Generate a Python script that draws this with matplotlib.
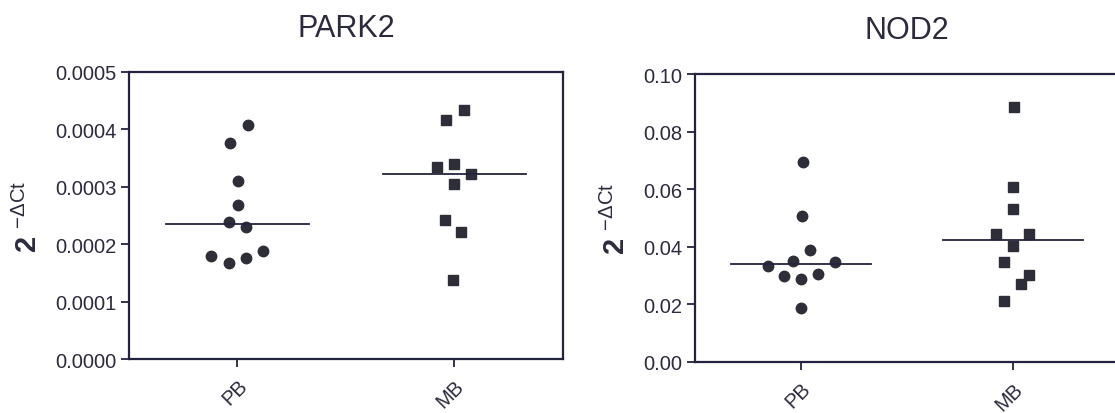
import matplotlib
matplotlib.use('Agg')
import matplotlib.pyplot as plt
from matplotlib.ticker import FormatStrFormatter

plt.rcParams['font.family'] = ['Liberation Sans', 'DejaVu Sans']
plt.rcParams['mathtext.fontset'] = 'custom'
plt.rcParams['mathtext.rm'] = 'Liberation Sans'
plt.rcParams['mathtext.bf'] = 'Liberation Sans:bold'
plt.rcParams['mathtext.it'] = 'Liberation Sans:italic'

grupos = ['PB', 'MB']

# PARK2
park2_pb = [0.000408, 0.000377, 0.000310, 0.000269, 0.000239, 0.000230, 0.000189, 0.000180, 0.000176, 0.000168]
park2_pb_dx = [0.048, -0.035, 0.003, 0.003, -0.038, 0.039, 0.117, -0.122, 0.038, -0.041]
park2_mb = [0.000433, 0.000417, 0.000334, 0.000339, 0.000322, 0.000305, 0.000243, 0.000222, 0.0001385]
park2_mb_dx = [0.043, -0.039, -0.081, 0.0, 0.076, 0.0, -0.044, 0.033, -0.008]

# NOD2
nod2_pb = [0.0695, 0.0506, 0.0389, 0.0349, 0.0346, 0.0334, 0.0305, 0.0297, 0.0288, 0.0188]
nod2_pb_dx = [0.008, 0.005, 0.042, -0.039, 0.162, -0.156, 0.079, -0.078, 0.0, 0.0]
nod2_mb = [0.0884, 0.0609, 0.0532, 0.0446, 0.0445, 0.0404, 0.0346, 0.0303, 0.0271, 0.0213]
nod2_mb_dx = [0.006, 0.0, 0.0, -0.081, 0.078, 0.0, -0.042, 0.078, 0.037, -0.042]

col_txt = '#2b2b3d'
col_eje = '#23233f'
col_pt = '#2e2e38'

fig = plt.figure(figsize=(11.15, 4.14), dpi=100)
ax1 = fig.add_axes([0.1157, 0.1304, 0.389, 0.6933])
ax2 = fig.add_axes([0.6233, 0.1232, 0.380, 0.6956])


def mediana(v):
    s = sorted(v)
    n = len(s)
    return s[n // 2] if n % 2 else (s[n // 2 - 1] + s[n // 2]) / 2


def panel(ax, titulo, pb, pb_dx, mb, mb_dx, ymax, fmt, ticks):
    ax.plot([0 + d for d in pb_dx], pb, 'o', color=col_pt, ms=7.5, ls='none')
    ax.plot([1 + d for d in mb_dx], mb, 's', color=col_pt, ms=7.2, ls='none')
    for i, v in enumerate([pb, mb]):
        m = mediana(v)
        ax.plot([i - 0.33, i + 0.33], [m, m], color=col_eje, lw=1.3)
    ax.set_xlim(-0.5, 1.5)
    ax.set_ylim(0, ymax)
    ax.set_yticks(ticks)
    ax.yaxis.set_major_formatter(FormatStrFormatter(fmt))
    ax.set_xticks([0, 1])
    ax.set_xticklabels(grupos, rotation=45, ha='right', rotation_mode='anchor')
    ax.tick_params(axis='both', direction='out', length=6, width=1.3,
                   color=col_eje, labelcolor=col_txt, labelsize=14.5, pad=3)
    ax.tick_params(axis='x', pad=6)
    for s in ax.spines.values():
        s.set_color(col_eje)
        s.set_linewidth(1.6)
    ax.set_title(titulo, fontsize=22, color=col_txt, pad=26)
    ax.set_ylabel(r'$\mathbf{2}\ ^{\mathrm{-\Delta Ct}}$', fontsize=21,
                  color=col_txt, labelpad=9)


panel(ax1, 'PARK2', park2_pb, park2_pb_dx, park2_mb, park2_mb_dx, 0.0005, '%.4f',
      [0, 0.0001, 0.0002, 0.0003, 0.0004, 0.0005])
panel(ax2, 'NOD2', nod2_pb, nod2_pb_dx, nod2_mb, nod2_mb_dx, 0.10, '%.2f',
      [0, 0.02, 0.04, 0.06, 0.08, 0.10])

fig.savefig('out.png', dpi=100)
